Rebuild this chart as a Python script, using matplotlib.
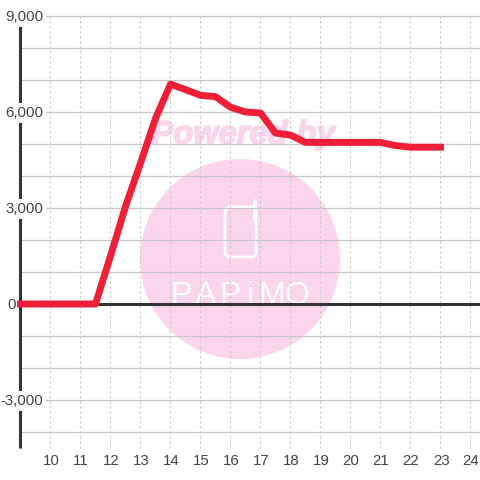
#!/usr/bin/env python3
import matplotlib
matplotlib.use('Agg')
import matplotlib.pyplot as plt
import matplotlib.patheffects as pe
from matplotlib.patches import Circle, FancyBboxPatch

hours = [9, 11.5, 12, 12.5, 13, 13.5, 14, 14.5, 15, 15.5, 16, 16.5, 17, 17.5, 18,
         18.5, 19, 20, 21, 21.5, 22, 23]
values = [0, 0, 1500, 3050, 4400, 5800, 6870, 6700, 6520, 6480, 6150, 6000, 5970,
          5340, 5280, 5050, 5050, 5050, 5050, 4950, 4900, 4900]
x_ticks = list(range(10, 25))
y_labelled = [9000, 6000, 3000, 0, -3000]
y_grid = list(range(-4000, 10000, 1000))

LINE = '#f01f38'
AXIS = '#333333'
GRID = '#c8c8c8'
TEXT = '#444444'
PINK = '#fbd5ec'

plt.rcParams['font.family'] = ['Liberation Sans', 'DejaVu Sans']

fig = plt.figure(figsize=(4.8, 4.8), dpi=100)
ax = fig.add_axes([0, 0, 1, 1])
ax.set_xlim(8.3167, 24.3167)
ax.set_ylim(-5500, 9500)
ax.axis('off')


def px(x, y):
    # figure pixels from the top-left corner, for the watermark only
    return x / 480, 1 - y / 480


# Watermark, underneath the grid
fig.patches.append(Circle((240, 480 - 259), 100, transform=None, facecolor=PINK,
                          edgecolor='none', zorder=-5))
fx, fy = px(243, 135)
fig.text(fx, fy, 'Powered by', color=PINK, fontsize=23.5, fontweight='bold',
         fontstyle='italic', ha='center', va='center', zorder=-4,
         path_effects=[pe.withStroke(linewidth=1.2, foreground=PINK)])
fig.patches.append(FancyBboxPatch((225, 480 - 257), 31, 50, boxstyle='round,pad=0,rounding_size=5',
                                  transform=None, facecolor='none', edgecolor='white',
                                  linewidth=2.0, zorder=-3))
fig.lines.append(plt.Line2D([255, 255], [480 - 220, 480 - 201], transform=None,
                            color='white', linewidth=2.6, solid_capstyle='round', zorder=-3))
for lx, letter in zip([181, 206, 230, 250, 272, 297], 'PAPiMO'):
    fx, fy = px(lx, 304)
    fig.text(fx, fy, letter, color='white', fontsize=23, ha='center', va='baseline', zorder=-3)

# Grid
ax.hlines(y_grid, 9, 24.3167, color=GRID, linewidth=0.9, zorder=1)
ax.vlines(x_ticks, -4500, 9000, color=GRID, linewidth=0.8,
          linestyles=(0, (2, 2.5)), zorder=1)

# Axes lines
ax.plot([9, 9], [-4500, 9000], color=AXIS, linewidth=2.2, solid_capstyle='butt', zorder=2)
ax.plot([9, 24.3167], [0, 0], color=AXIS, linewidth=2.2, solid_capstyle='butt', zorder=2)

# Tick labels
for y in y_labelled:
    label_x = 8.85 if y == 0 else 9.75
    ax.text(label_x, y - 30, f'{y:,}', color=TEXT, fontsize=10.8, ha='right', va='center',
            zorder=3, bbox=dict(facecolor='white', edgecolor='none',
                                pad=0 if y == 0 else 2))
for x in x_ticks:
    ax.text(x + 0.02, -4906, str(x), color=TEXT, fontsize=10.8, ha='center', va='center', zorder=3)

ax.plot(hours, values, color=LINE, linewidth=5, solid_capstyle='projecting',
        solid_joinstyle='round', zorder=4)

fig.savefig('out.png', dpi=100)
